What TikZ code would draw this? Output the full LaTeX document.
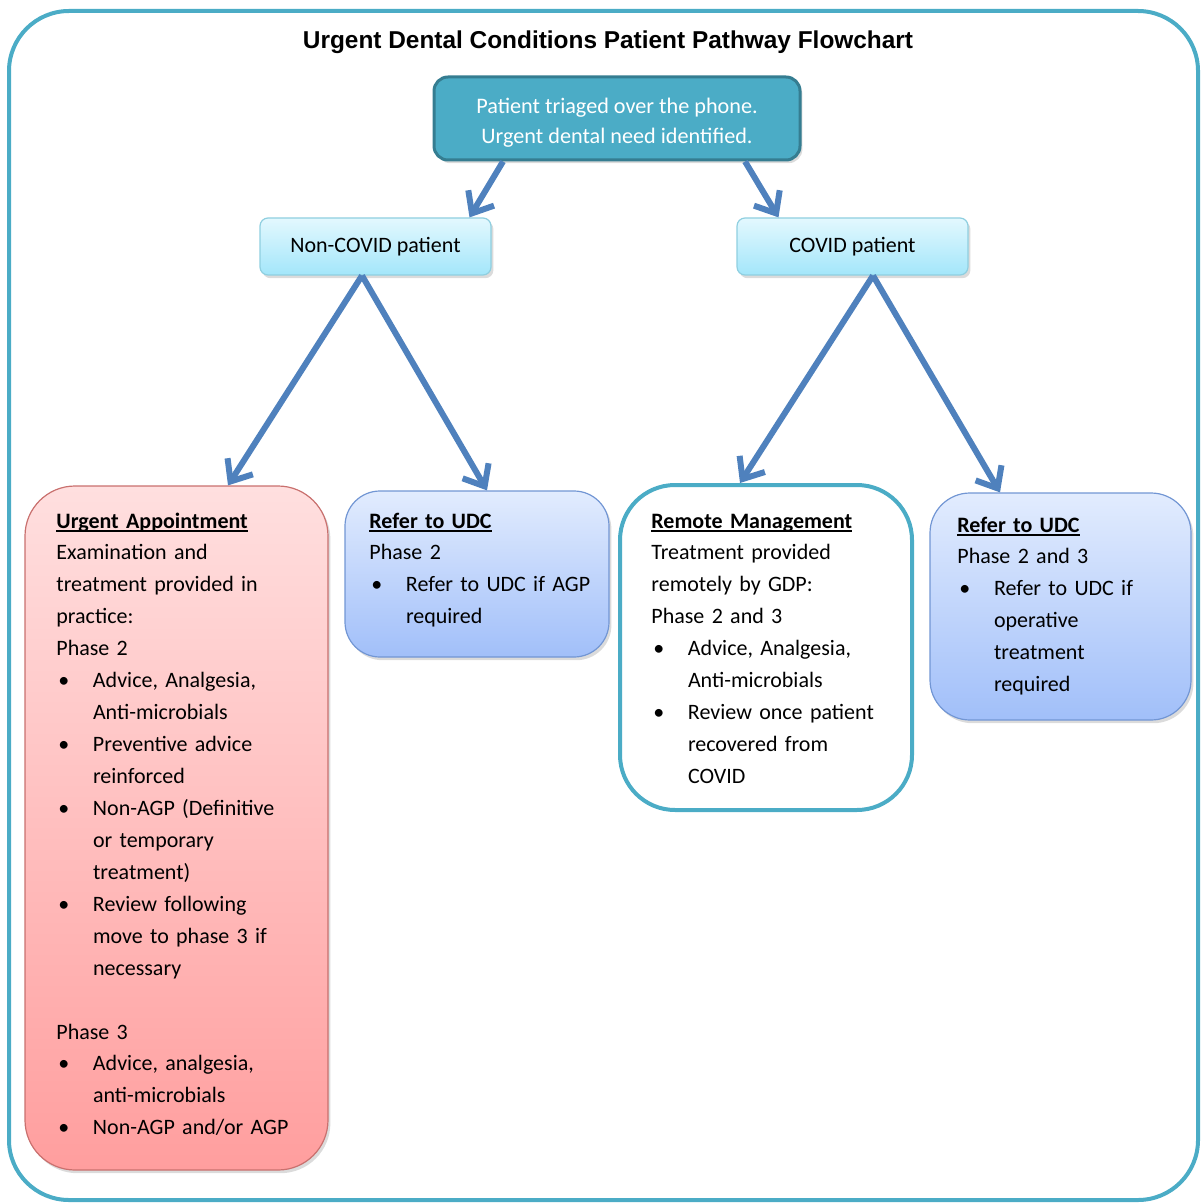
\documentclass[tikz,border=0pt]{standalone}
\usepackage{fontspec}
\setmainfont{Carlito}
\newfontfamily\titlefont{Liberation Sans}
\usetikzlibrary{arrows.meta,shadows}
\definecolor{framec}{HTML}{4BACC6}
\definecolor{topborder}{HTML}{357D91}
\definecolor{arrowc}{HTML}{4F81BD}
\definecolor{pbtop}{HTML}{E3F8FE}
\definecolor{pbbot}{HTML}{A3E6FA}
\definecolor{pbdraw}{HTML}{8FCFE0}
\definecolor{redtop}{HTML}{FFDFDF}
\definecolor{redbot}{HTML}{FF9E9E}
\definecolor{reddraw}{HTML}{C9706E}
\definecolor{bluetop}{HTML}{E2ECFE}
\definecolor{bluebot}{HTML}{A1BFF9}
\definecolor{bluedraw}{HTML}{7296D4}
\newcommand\ulh[1]{\setbox0\hbox{\textbf{#1}}\rlap{\rule[-1.8pt]{\wd0}{0.8pt}}\box0}
\newcommand\bbul{\makebox[18.3pt][l]{\hspace*{1pt}\textbullet}}
\newcommand\bind{\hspace*{18.3pt}}
\begin{document}
\begin{tikzpicture}[x=0.5pt,y=-0.5pt,
  softshadow/.style={drop shadow={shadow xshift=1.2pt,shadow yshift=-1.6pt,opacity=0.2,fill=black!70}},
  topbox/.style={draw=topborder, fill=framec, line width=1.5pt, rounded corners=7pt,
    minimum width=183pt, minimum height=41.5pt, text=white, align=center,
    font=\fontsize{11.1}{15}\selectfont, inner sep=0pt, softshadow},
  patbox/.style={draw=pbdraw, line width=0.6pt, top color=pbtop, bottom color=pbbot,
    rounded corners=4pt, minimum width=115.5pt, minimum height=28.5pt,
    font=\fontsize{11}{14}\selectfont, inner sep=0pt, softshadow},
  redbox/.style={draw=reddraw, line width=0.6pt, top color=redtop, bottom color=redbot,
    rounded corners=25pt, inner sep=0pt, softshadow},
  bluebox/.style={draw=bluedraw, line width=0.6pt, top color=bluetop, bottom color=bluebot,
    inner sep=0pt, softshadow},
  whitebox/.style={draw=framec, line width=2pt, fill=white, rounded corners=27.5pt, inner sep=0pt},
  body/.style={font=\fontsize{11}{15.97}\selectfont, text width=140pt, align=left,
    inner sep=0pt, anchor=base west},
  arr/.style={draw=arrowc, line width=3pt, -{Straight Barb[length=9pt,width=15pt]}}
]
\useasboundingbox (0,0) rectangle (1201,1203);
\draw[framec, line width=2pt, rounded corners=30pt] (9,11) rectangle (1198,1200);

\node[font=\titlefont\fontsize{12.2}{14}\selectfont\bfseries, anchor=base, inner sep=0pt] (title) at (608,48.5)
  {Urgent Dental Conditions Patient Pathway Flowchart};

\node[topbox] (top) at (617,118.5) {\rule{0pt}{12pt}Patient triaged over the phone.\\Urgent dental need identified.};
\node[patbox] (nc) at (375.5,246.5) {Non-COVID patient};
\node[patbox] (cv) at (852.5,246.5) {COVID patient};

\node[redbox, minimum width=151.5pt, minimum height=342pt] (ua) at (176.5,828) {};
\node[bluebox, rounded corners=17.5pt, minimum width=132pt, minimum height=83pt] (r1) at (477,574) {};
\node[whitebox, minimum width=146pt, minimum height=162.5pt] (rm) at (766,647.5) {};
\node[bluebox, rounded corners=20pt, minimum width=130.5pt, minimum height=113.5pt] (r2) at (1060.5,606.5) {};

\node[body] (uatext) at (56,528) {\ulh{Urgent Appointment}\\
Examination and\\
treatment provided in\\
practice:\\
Phase 2\\
\bbul Advice, Analgesia,\\
\bind Anti-microbials\\
\bbul Preventive advice\\
\bind reinforced\\
\bbul Non-AGP (Definitive\\
\bind or temporary\\
\bind treatment)\\
\bbul Review following\\
\bind move to phase 3 if\\
\bind necessary\\
\mbox{}\\
Phase 3\\
\bbul Advice, analgesia,\\
\bind anti-microbials\\
\bbul Non-AGP and/or AGP};

\node[body] (r1text) at (369,528) {\ulh{Refer to UDC}\\
Phase 2\\
\bbul Refer to UDC if AGP\\
\bind required};

\node[body] (rmtext) at (651,528) {\ulh{Remote Management}\\
Treatment provided\\
remotely by GDP:\\
Phase 2 and 3\\
\bbul Advice, Analgesia,\\
\bind Anti-microbials\\
\bbul Review once patient\\
\bind recovered from\\
\bind COVID};

\node[body] (r2text) at (957,532) {\ulh{Refer to UDC}\\
Phase 2 and 3\\
\bbul Refer to UDC if\\
\bind operative\\
\bind treatment\\
\bind required};

\draw[arr] ([xshift=-57pt]top.south) -- ([xshift=47pt]nc.north);
\draw[arr] ([xshift=64pt]top.south) -- ([xshift=-37pt]cv.north);
\draw[arr] ([xshift=-6.75pt]nc.south) -- ([xshift=25.75pt]ua.north);
\draw[arr] ([xshift=-6.75pt]nc.south) -- ([xshift=5pt]r1.north);
\draw[arr] ([xshift=10.25pt]cv.south) -- ([xshift=-13pt]rm.north);
\draw[arr] ([xshift=10.25pt]cv.south) -- ([xshift=-30.25pt]r2.north);
\end{tikzpicture}
\end{document}
